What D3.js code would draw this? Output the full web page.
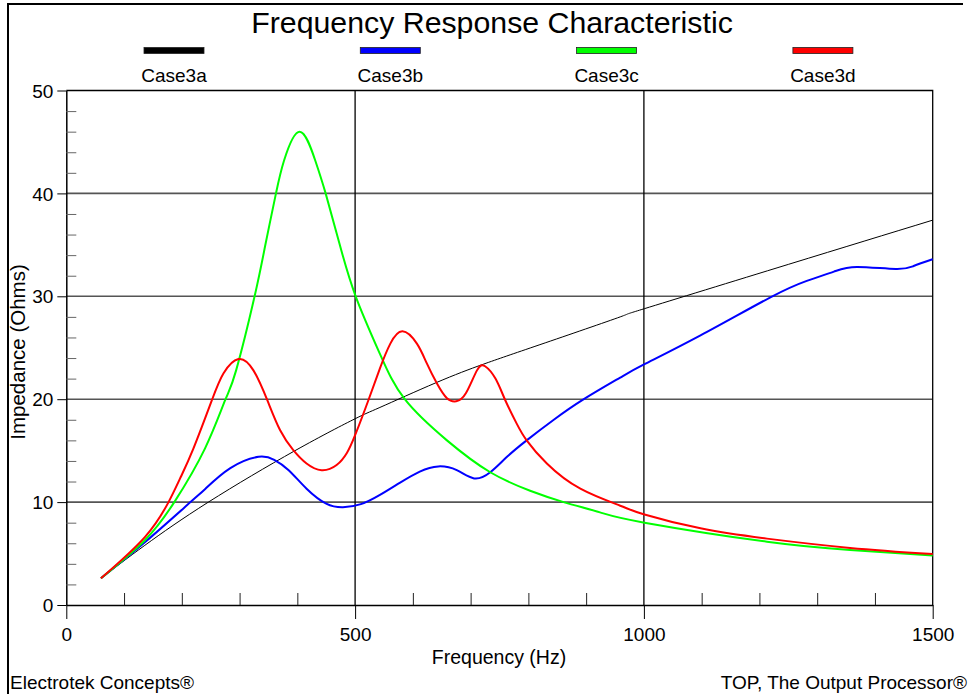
<!DOCTYPE html>
<html>
<head>
<meta charset="utf-8">
<script src="https://cdn.jsdelivr.net/npm/d3@7"></script>
<style>
  body { margin: 0; background: #fff; }
  svg text { font-family: "Liberation Sans", Arial, sans-serif; fill: #000; }
</style>
</head>
<body>
<svg></svg>
<script>
// series names and colours (legend order)
var seriesNames = ["Case3a", "Case3b", "Case3c", "Case3d"];
var seriesColors = ["#000000", "#0000ff", "#00ff00", "#ff0000"];

// [frequency Hz, impedance Ohms]
var case3a = [[60,2.6],[136,5.8],[246,10],[396,15],[500,18.1],[543,19.2],[640,21.6],[722,23.4],
  [820,25.3],[959,28.0],[1001,28.8],[1250,33.1],[1500,37.4]];
var case3b = [[60,2.6],[136,6.1],[215,10],[241,11.3],[284,13.3],[333,14.4],[360,14.1],[385,13.1],
  [416,11.3],[450,9.85],[479,9.5],[510,9.8],[543,10.7],[578,11.9],[612,12.97],[644,13.47],[676,13.1],
  [706,12.3],[734,12.9],[763,14.4],[797,16.0],[844,18.0],[896,20],[959,22.1],[1001,23.4],[1098,26.2],
  [1219,29.9],[1282,31.5],[1329,32.4],[1369,32.85],[1436,32.65],[1467,32.94],[1500,33.6]];
var case3c = [[60,2.6],[136,6.3],[187,10],[240,15.2],[275,19.9],[294,22.8],[326,30],[345,35.1],
  [363,40],[377,43.2],[404,46],[431,43.2],[449,40],[473,35.1],[501,30],[543,24.4],[586,20],[659,16],
  [734,12.9],[803,11.1],[861,10],[924,9],[1001,8],[1213,6.15],[1357,5.35],[1500,4.8]];
var case3d = [[60,2.6],[136,6.6],[177,10],[197,12.3],[220,15.2],[252,19.9],[272,22.5],[298,23.9],
  [324,22.8],[348,19.9],[370,17],[393,15.05],[416,13.75],[442,13.1],[468,13.6],[486,14.8],[500,16.5],
  [523,19.9],[543,23],[561,25.4],[582,26.6],[607,25.4],[624,23.5],[642,21.5],[659,20.1],[675,19.8],
  [692,20.6],[711,22.8],[725,23.2],[743,22],[760,19.9],[780,17.6],[797,16],[832,13.75],[890,11.3],
  [959,9.65],[1001,8.8],[1098,7.45],[1213,6.45],[1357,5.55],[1500,4.95]];
var seriesData = [case3a, case3b, case3c, case3d];

// axis ticks
var xMajor = [0, 500, 1000, 1500];
var xMinor = [100, 200, 300, 400, 600, 700, 800, 900, 1100, 1200, 1300, 1400];
var yMajor = [0, 10, 20, 30, 40, 50];
var yMinor = [2, 4, 6, 8, 12, 14, 16, 18, 22, 24, 26, 28, 32, 34, 36, 38, 42, 44, 46, 48];

window.onload = function() {
  var svgCanvas = d3.select("svg")
    .attr("width", 969)
    .attr("height", 694);

  var left = 66.3, right = 932.7, top = 90.5, bottom = 605;

  var x = d3.scaleLinear().domain([0, 1500]).range([left, right]);
  var y = d3.scaleLinear().domain([0, 50]).range([bottom, top]);

  // outer frame (left and top)
  svgCanvas.append("path")
    .attr("d", "M8,694 L8,4 L963,4")
    .attr("fill", "none")
    .attr("stroke", "#000")
    .attr("stroke-width", 2);

  // title
  svgCanvas.append("text")
    .attr("x", 492)
    .attr("y", 33)
    .attr("text-anchor", "middle")
    .style("font-size", "30.3px")
    .text("Frequency Response Characteristic");

  // legend
  var legend = svgCanvas.selectAll(".legend")
    .data(seriesNames).enter()
    .append("g")
    .attr("class", "legend")
    .attr("transform", function(d, i) { return "translate(" + (174 + i * 216.3) + ",0)"; });
  legend.append("rect")
    .attr("x", -30).attr("y", 47.5)
    .attr("width", 60).attr("height", 6)
    .attr("fill", function(d, i) { return seriesColors[i]; })
    .attr("stroke", "#222")
    .attr("stroke-width", 0.8);
  legend.append("text")
    .attr("y", 82)
    .attr("text-anchor", "middle")
    .style("font-size", "19px")
    .text(function(d) { return d; });

  // horizontal grid
  svgCanvas.selectAll(".hgrid")
    .data([10, 20, 30, 40]).enter()
    .append("line")
    .attr("x1", left).attr("x2", right)
    .attr("y1", function(d) { return y(d); })
    .attr("y2", function(d) { return y(d); })
    .attr("stroke", "#555")
    .attr("stroke-width", 1.6);

  // vertical grid
  svgCanvas.selectAll(".vgrid")
    .data([500, 1000]).enter()
    .append("line")
    .attr("x1", function(d) { return x(d); })
    .attr("x2", function(d) { return x(d); })
    .attr("y1", top).attr("y2", bottom)
    .attr("stroke", "#000")
    .attr("stroke-width", 1.3);

  // top and right border of plot
  svgCanvas.append("path")
    .attr("d", "M" + left + "," + top + " L" + right + "," + top + " L" + right + "," + bottom)
    .attr("fill", "none")
    .attr("stroke", "#000")
    .attr("stroke-width", 1.3);

  // y axis: major outward, minor inward
  var yAxis = svgCanvas.append("g")
    .attr("transform", "translate(" + left + ",0)")
    .call(d3.axisLeft(y).tickValues(yMajor).tickSize(9).tickPadding(4).tickSizeOuter(0));
  yAxis.selectAll("text").style("font-size", "19px").attr("dy", "0.35em");
  yAxis.select(".domain").attr("stroke-width", 1.5);

  svgCanvas.append("g")
    .attr("transform", "translate(" + left + ",0)")
    .call(d3.axisRight(y).tickValues(yMinor).tickSize(10).tickFormat("").tickSizeOuter(0))
    .call(function(g) { g.select(".domain").remove(); })
    .selectAll("line").attr("stroke", "#666");

  // x axis
  var xAxis = svgCanvas.append("g")
    .attr("transform", "translate(0," + bottom + ")")
    .call(d3.axisBottom(x).tickValues(xMajor).tickFormat(d3.format("d"))
      .tickSize(14).tickPadding(9).tickSizeOuter(0));
  xAxis.selectAll("text").style("font-size", "19px");
  xAxis.select(".domain").attr("stroke-width", 1.5);

  svgCanvas.append("g")
    .attr("transform", "translate(0," + bottom + ")")
    .call(d3.axisTop(x).tickValues(xMinor).tickSize(12).tickFormat("").tickSizeOuter(0))
    .call(function(g) { g.select(".domain").remove(); })
    .selectAll("line").attr("stroke", "#222");

  // axis titles
  svgCanvas.append("text")
    .attr("x", 499)
    .attr("y", 664)
    .attr("text-anchor", "middle")
    .style("font-size", "19.5px")
    .text("Frequency (Hz)");

  svgCanvas.append("text")
    .attr("transform", "translate(25,352) rotate(-90)")
    .attr("text-anchor", "middle")
    .style("font-size", "20.5px")
    .text("Impedance (Ohms)");

  // curves
  var line = d3.line()
    .x(function(d) { return x(d[0]); })
    .y(function(d) { return y(d[1]); })
    .curve(d3.curveNatural);

  svgCanvas.selectAll(".curve")
    .data(seriesData).enter()
    .append("path")
    .attr("class", "curve")
    .attr("fill", "none")
    .attr("stroke", function(d, i) { return seriesColors[i]; })
    .attr("stroke-width", function(d, i) { return i === 0 ? 1 : 2; })
    .attr("d", line);

  // footer
  svgCanvas.append("text")
    .attr("x", 10)
    .attr("y", 689)
    .style("font-size", "19px")
    .text("Electrotek Concepts\u00AE");

  svgCanvas.append("text")
    .attr("x", 967)
    .attr("y", 689)
    .attr("text-anchor", "end")
    .style("font-size", "19px")
    .text("TOP, The Output Processor\u00AE");
};
</script>
</body>
</html>
